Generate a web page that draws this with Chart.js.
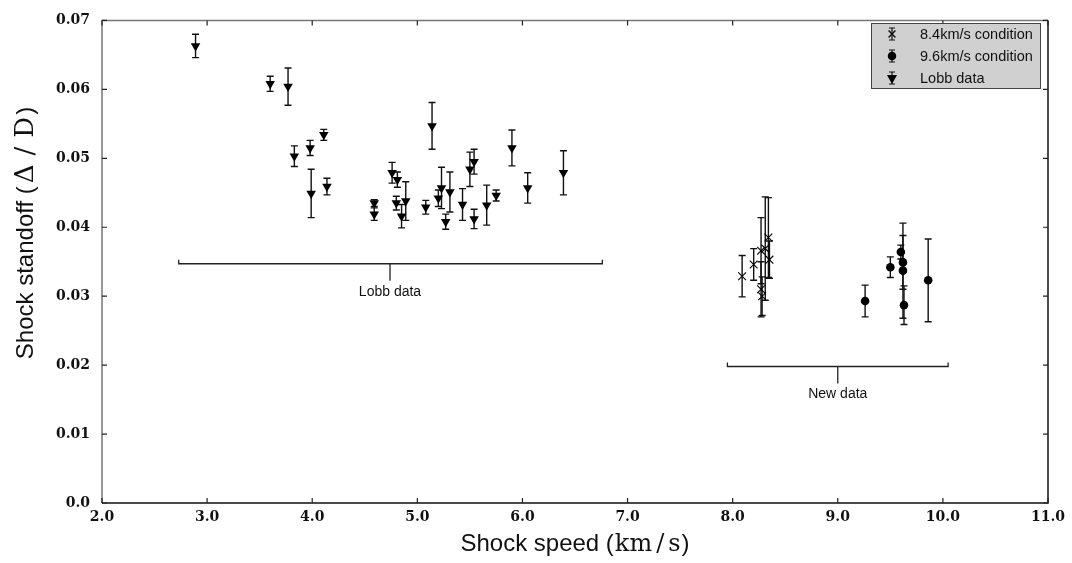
<!DOCTYPE html>
<html>
<head>
<meta charset="utf-8">
<script src="https://cdn.jsdelivr.net/npm/chart.js@4.4.0/dist/chart.umd.min.js"></script>
<style>
  html, body { margin: 0; padding: 0; background: #fff; }
  #wrap { width: 1072px; height: 563px; position: relative; }
</style>
</head>
<body>
<div id="wrap"><canvas id="standoff-chart"></canvas></div>
<script>
// --- data ---
const lobbSpeed = [2.89, 3.60, 3.77, 3.83, 3.98, 3.99, 4.11, 4.14, 4.59, 4.59, 4.76, 4.81, 4.80, 4.85, 4.89,
  5.08, 5.14, 5.20, 5.23, 5.27, 5.31, 5.43, 5.50, 5.54, 5.54, 5.66, 5.75, 5.90, 6.05, 6.39];
const lobbStandoff = [0.0663, 0.0608, 0.0604, 0.0503, 0.0515, 0.0449, 0.0534, 0.0459, 0.0435, 0.0419, 0.0479, 0.0469, 0.0435, 0.0416, 0.0438,
  0.0429, 0.0547, 0.0442, 0.0457, 0.0408, 0.0451, 0.0433, 0.0484, 0.0495, 0.0412, 0.0432, 0.0446, 0.0515, 0.0457, 0.0479];
const lobbErr = [0.0017, 0.0011, 0.0027, 0.0015, 0.0011, 0.0035, 0.0008, 0.0012, 0.0005, 0.0009, 0.0015, 0.0011, 0.0010, 0.0017, 0.0028,
  0.0010, 0.0034, 0.0012, 0.0030, 0.0011, 0.0029, 0.0023, 0.0025, 0.0018, 0.0014, 0.0029, 0.0008, 0.0026, 0.0022, 0.0032];

const cond84Speed = [8.09, 8.20, 8.27, 8.27, 8.28, 8.31, 8.34, 8.35];
const cond84Standoff = [0.0329, 0.0346, 0.0366, 0.0310, 0.0300, 0.0369, 0.0385, 0.0353];
const cond84Err = [0.0030, 0.0023, 0.0048, 0.0040, 0.0028, 0.0075, 0.0058, 0.0027];

const cond96Speed = [9.26, 9.50, 9.60, 9.62, 9.62, 9.63, 9.86];
const cond96Standoff = [0.0293, 0.0342, 0.0364, 0.0349, 0.0337, 0.0287, 0.0323];
const cond96Err = [0.0023, 0.0015, 0.0010, 0.0039, 0.0069, 0.0028, 0.0060];

// bracket annotations: [xStart, xEnd, xCentre, y, label]
const lobbBracket = [2.73, 6.76, 4.74, 0.0347, "Lobb data"];
const newBracket = [7.95, 10.05, 9.0, 0.0198, "New data"];

const xTicks = [2, 3, 4, 5, 6, 7, 8, 9, 10, 11];
const yTicks = [0, 0.01, 0.02, 0.03, 0.04, 0.05, 0.06, 0.07];

const toPoints = (xs, ys) => xs.map((x, i) => ({ x, y: ys[i] }));
const errArrays = [cond84Err, cond96Err, lobbErr];

const SANS = '"Liberation Sans", Arial, sans-serif';
const SERIF = '"DejaVu Serif", serif';

const drawErrorBars = {
  id: "errorBars",
  beforeDatasetsDraw(chart) {
    const { ctx, scales } = chart;
    ctx.save();
    ctx.strokeStyle = "#111";
    ctx.lineWidth = 1.4;
    chart.data.datasets.forEach((ds, di) => {
      const errs = errArrays[di];
      ds.data.forEach((p, i) => {
        const px = scales.x.getPixelForValue(p.x);
        const top = scales.y.getPixelForValue(p.y + errs[i]);
        const bot = scales.y.getPixelForValue(p.y - errs[i]);
        ctx.beginPath();
        ctx.moveTo(px, top); ctx.lineTo(px, bot);
        ctx.moveTo(px - 3.5, top); ctx.lineTo(px + 3.5, top);
        ctx.moveTo(px - 3.5, bot); ctx.lineTo(px + 3.5, bot);
        ctx.stroke();
      });
    });
    ctx.restore();
  },
};

// text drawn in pieces: [text, font, gapAfter]
function drawPieces(ctx, pieces, cx, cy) {
  let total = 0;
  pieces.forEach(([t, f, g]) => { ctx.font = f; total += ctx.measureText(t).width + g; });
  let x = cx - total / 2;
  pieces.forEach(([t, f, g]) => {
    ctx.font = f;
    ctx.fillText(t, x, cy);
    x += ctx.measureText(t).width + g;
  });
}

const decorations = {
  id: "decorations",
  afterDraw(chart) {
    const { ctx, scales, chartArea: a } = chart;
    const sx = scales.x, sy = scales.y;
    ctx.save();

    // brackets
    ctx.strokeStyle = "#222";
    ctx.lineWidth = 1.3;
    ctx.fillStyle = "#111";
    ctx.font = "14px " + SANS;
    ctx.textAlign = "center";
    ctx.textBaseline = "middle";
    [lobbBracket, newBracket].forEach(([x0, x1, xc, y, label]) => {
      const p0 = sx.getPixelForValue(x0), p1 = sx.getPixelForValue(x1);
      const pc = sx.getPixelForValue(xc), py = sy.getPixelForValue(y);
      ctx.beginPath();
      ctx.moveTo(p0, py - 4); ctx.lineTo(p0, py); ctx.lineTo(p1, py); ctx.lineTo(p1, py - 4);
      ctx.moveTo(pc, py); ctx.lineTo(pc, py + 17);
      ctx.stroke();
      ctx.fillText(label, pc, py + 28);
    });

    // frame
    ctx.lineWidth = 1.5;
    ctx.strokeStyle = "#777";
    ctx.beginPath();
    ctx.moveTo(a.left, a.bottom); ctx.lineTo(a.left, a.top); ctx.lineTo(a.right, a.top);
    ctx.stroke();
    ctx.strokeStyle = "#111";
    ctx.beginPath();
    ctx.moveTo(a.left, a.bottom); ctx.lineTo(a.right, a.bottom); ctx.lineTo(a.right, a.top);
    ctx.stroke();

    // inward ticks
    ctx.lineWidth = 1.2;
    ctx.strokeStyle = "#222";
    ctx.beginPath();
    xTicks.forEach((v) => {
      const p = sx.getPixelForValue(v);
      ctx.moveTo(p, a.bottom); ctx.lineTo(p, a.bottom - 5);
      ctx.moveTo(p, a.top); ctx.lineTo(p, a.top + 5);
    });
    yTicks.forEach((v) => {
      const p = sy.getPixelForValue(v);
      ctx.moveTo(a.left, p); ctx.lineTo(a.left + 5, p);
      ctx.moveTo(a.right, p); ctx.lineTo(a.right - 5, p);
    });
    ctx.stroke();

    // legend
    const lx = 871, ly = 23, lw = 169, lh = 65;
    ctx.fillStyle = "#d0d0d0";
    ctx.fillRect(lx, ly, lw, lh);
    ctx.strokeStyle = "#444";
    ctx.lineWidth = 1;
    ctx.strokeRect(lx + 0.5, ly + 0.5, lw, lh);
    chart.data.datasets.forEach((ds, i) => {
      const cy = 34 + i * 22, cx = 892;
      ctx.strokeStyle = "#111";
      ctx.lineWidth = 1.2;
      ctx.beginPath();
      ctx.moveTo(cx, cy - 6); ctx.lineTo(cx, cy + 6);
      ctx.moveTo(cx - 3, cy - 6); ctx.lineTo(cx + 3, cy - 6);
      ctx.moveTo(cx - 3, cy + 6); ctx.lineTo(cx + 3, cy + 6);
      ctx.stroke();
      Chart.helpers.drawPoint(ctx, {
        pointStyle: ds.pointStyle, rotation: ds.rotation || 0,
        radius: ds.pointRadius * 0.85, borderWidth: 1,
      }, cx, cy);
      if (ds.pointStyle === "crossRot") ctx.stroke(); else { ctx.fillStyle = "#000"; ctx.fill(); }
      ctx.fillStyle = "#111";
      ctx.font = "14.5px " + SANS;
      ctx.textAlign = "left";
      ctx.textBaseline = "middle";
      ctx.fillText(ds.label, 920, cy + 1);
    });

    // axis titles
    ctx.fillStyle = "#111";
    ctx.textAlign = "left";
    ctx.textBaseline = "alphabetic";
    drawPieces(ctx, [
      ["Shock speed (", "24px " + SANS, 1],
      ["km", "24px " + SERIF, 4],
      ["/", "24px " + SERIF, 4],
      ["s", "24px " + SERIF, 1],
      [")", "24px " + SANS, 0],
    ], (a.left + a.right) / 2, 551);

    ctx.translate(33, 233);
    ctx.rotate(-Math.PI / 2);
    drawPieces(ctx, [
      ["Shock standoff (", "24px " + SANS, 3],
      ["Δ", "26px " + SERIF, 9],
      ["/", "26px " + SERIF, 9],
      ["D", "26px " + SERIF, 2],
      [")", "24px " + SANS, 0],
    ], 0, 0);
    ctx.restore();
  },
};

new Chart(document.getElementById("standoff-chart"), {
  type: "scatter",
  data: {
    datasets: [
      {
        label: "8.4km/s condition",
        data: toPoints(cond84Speed, cond84Standoff),
        pointStyle: "crossRot",
        pointRadius: 5.5,
        borderColor: "#000",
        backgroundColor: "rgba(0,0,0,0)",
        borderWidth: 1.1,
      },
      {
        label: "9.6km/s condition",
        data: toPoints(cond96Speed, cond96Standoff),
        pointStyle: "circle",
        pointRadius: 4.3,
        borderColor: "#000",
        backgroundColor: "#000",
        borderWidth: 0,
      },
      {
        label: "Lobb data",
        data: toPoints(lobbSpeed, lobbStandoff),
        pointStyle: "triangle",
        rotation: 180,
        pointRadius: 5.5,
        borderColor: "#000",
        backgroundColor: "#000",
        borderWidth: 0,
      },
    ],
  },
  options: {
    responsive: true,
    maintainAspectRatio: false,
    animation: false,
    layout: { padding: { left: 0, top: 15, right: 24, bottom: 0 } },
    plugins: { legend: { display: false }, tooltip: { enabled: false } },
    scales: {
      x: {
        type: "linear",
        min: 2,
        max: 11,
        afterBuildTicks: (scale) => { scale.ticks = xTicks.map((v) => ({ value: v })); },
        afterFit: (scale) => { scale.height = 60; },
        grid: { display: false, drawTicks: false },
        border: { display: false },
        ticks: {
          padding: 6,
          color: "#111",
          font: { family: SERIF, size: 14, weight: "bold" },
          callback: (v) => v.toFixed(1),
        },
      },
      y: {
        type: "linear",
        min: 0,
        max: 0.07,
        afterBuildTicks: (scale) => { scale.ticks = yTicks.map((v) => ({ value: v })); },
        afterFit: (scale) => { scale.width = 102; },
        grid: { display: false, drawTicks: false },
        border: { display: false },
        ticks: {
          padding: 12,
          color: "#111",
          font: { family: SERIF, size: 14, weight: "bold" },
          callback: (v) => (v === 0 ? "0.0" : v.toFixed(2)),
        },
      },
    },
  },
  plugins: [drawErrorBars, decorations],
});
</script>
</body>
</html>
